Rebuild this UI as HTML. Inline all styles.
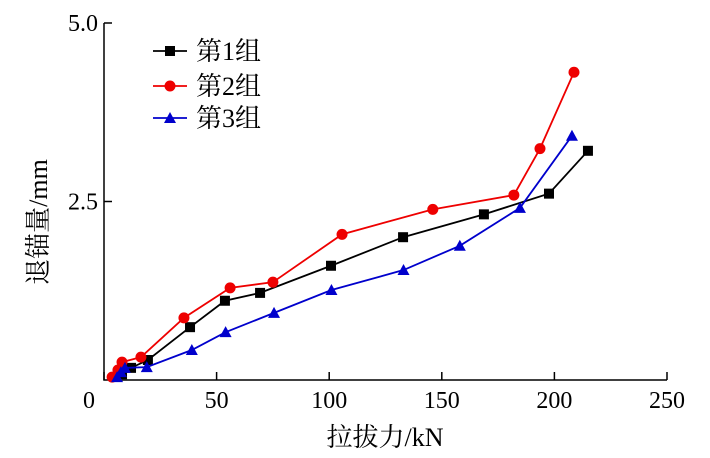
<!DOCTYPE html>
<html><head><meta charset="utf-8"><style>
body{margin:0;background:#fff;}
svg{display:block;font-family:"Liberation Serif","Noto Serif CJK SC",serif;}
</style></head><body>
<svg id="chart" width="710" height="458">
<g id="axes"></g><g id="series"></g><g id="legend"></g>
</svg>
<script>
const xTicks=[0,50,100,150,200,250];
const yTicks=[2.5,5.0];
const yTickLabels=["2.5","5.0"];
const s1x=[8,12,19.5,38.2,53.7,69.3,100.8,132.8,168.7,197.6,214.9];
const s1y=[0.08,0.17,0.28,0.74,1.11,1.22,1.60,2.00,2.32,2.61,3.21];
const s2x=[3.6,6.2,8,16.4,35.5,56,75,105.7,146,182,193.6,208.7];
const s2y=[0.04,0.14,0.25,0.32,0.87,1.29,1.37,2.04,2.39,2.59,3.24,4.31];
const s3x=[5.8,7.5,9.3,19,39,54,75.5,101,133,158,184.7,207.8];
const s3y=[0.04,0.11,0.17,0.18,0.42,0.67,0.94,1.26,1.54,1.88,2.41,3.42];
const seriesNames=["第1组","第2组","第3组"];
const NS="http://www.w3.org/2000/svg";
const X0=104,X1=667,Y0=380,Y1=23;
const xs=v=>X0+(v/250)*(X1-X0);
const ys=v=>Y0-(v/5)*(Y0-Y1);
function mk(tag,attrs,parent,text){const e=document.createElementNS(NS,tag);for(const k in attrs)e.setAttribute(k,attrs[k]);if(text!==undefined)e.textContent=text;parent.appendChild(e);return e;}
const axes=document.getElementById('axes');
let e=mk('path',{d:`M${X0},${Y1} V${Y0} H${X1}`,fill:'none',stroke:'#000','stroke-width':1.5},axes);


xTicks.forEach(t=>{
 let l=mk('line',{x1:xs(t),x2:xs(t),y1:Y0,y2:Y0-8,stroke:'#000','stroke-width':1.5},axes);
 
 
 let tx=mk('text',{x:xs(t)-(t===0?15:0),y:Y0+28,'text-anchor':'middle','font-size':24},axes,String(t));
 
 
});
yTicks.forEach((t,i)=>{
 let l=mk('line',{x1:X0,x2:X0+8,y1:ys(t),y2:ys(t),stroke:'#000','stroke-width':1.5},axes);
 
 
 let tx=mk('text',{x:X0-6,y:ys(t)+8,'text-anchor':'end','font-size':24},axes,yTickLabels[i]);
 
 
});
e=mk('text',{x:385,y:446,'text-anchor':'middle','font-size':26},axes,'拉拔力/kN');


e=mk('text',{x:0,y:0,'text-anchor':'middle','font-size':26,transform:'translate(47,222) rotate(-90)'},axes,'退锚量/mm');


const colors=['#000','#e00','#00c'];
const data=[[s1x,s1y],[s2x,s2y],[s3x,s3y]];
const sg=document.getElementById('series');
function marker(k,cx,cy,parent){
 let m;
 if(k===0)m=mk('rect',{x:cx-5,y:cy-5,width:10,height:10,fill:colors[k]},parent);
 else if(k===1)m=mk('circle',{cx:cx,cy:cy,r:5.5,fill:colors[k]},parent);
 else m=mk('polygon',{points:`${cx},${cy-6} ${cx-6},${cy+5} ${cx+6},${cy+5}`,fill:colors[k]},parent);
 return m;
}
data.forEach((d,k)=>{
 const g=mk('g',{},sg);
 
 
 const pts=d[0].map((v,i)=>xs(v)+','+ys(d[1][i])).join(' ');
 let pl=mk('polyline',{points:pts,fill:'none',stroke:colors[k],'stroke-width':1.8},g);
 
 
 d[0].forEach((v,i)=>{
  const m=marker(k,xs(v),ys(d[1][i]),g);
  
  
 });
});
const lg=document.getElementById('legend');
const ly=[51,86,118];
seriesNames.forEach((n,k)=>{
 const g=mk('g',{},lg);
 
 
 mk('line',{x1:153,x2:187,y1:ly[k],y2:ly[k],stroke:colors[k],'stroke-width':1.8},g);
 marker(k,170,ly[k],g);
 mk('text',{x:196,y:ly[k]+9,'font-size':26},g,n);
});
</script>
</body></html>
